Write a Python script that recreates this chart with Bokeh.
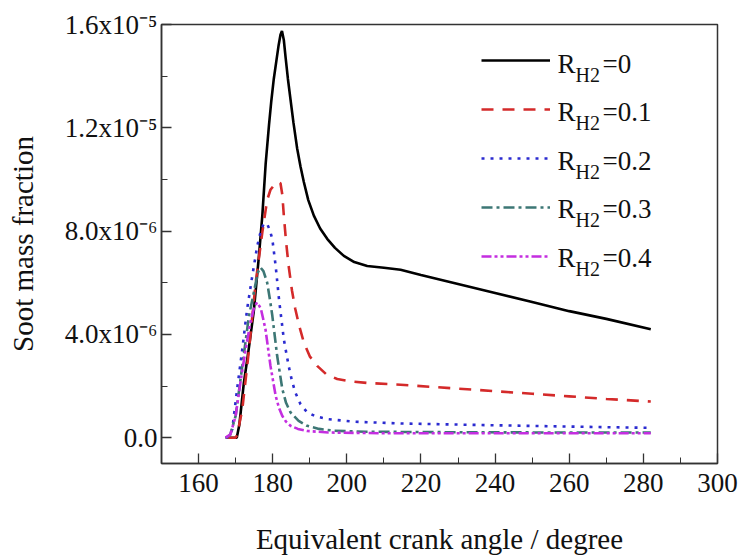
from bokeh.plotting import figure
from bokeh.models import FixedTicker, Legend, LegendItem, Label, Range1d
from bokeh.embed import file_html
from bokeh.resources import INLINE

# ---- data (soot mass fraction in units of 1e-6) ----
r_h2_labels = ["0", "0.1", "0.2", "0.3", "0.4"]

x_r0 = [167.3, 170.3, 171.0, 172.2, 173.5, 174.9, 176.2, 177.2, 178.1, 179.0, 179.6, 180.3, 181.0,
        181.6, 182.1, 182.5, 183.0, 183.5, 184.1, 184.8, 185.6, 186.6, 187.5, 188.4, 189.6, 191.1,
        192.8, 194.7, 196.8, 199.2, 202.0, 205.5, 210.0, 214.5, 220.0,
        230.0, 240.0, 250.0, 260.0, 270.0, 282.0]
y_r0 = [0.0, 0.0, 0.5, 2.1, 3.4, 4.9, 6.9, 8.6, 10.6, 12.1, 13.0, 13.9, 14.6,
        15.2, 15.6, 15.75, 15.4, 14.7, 13.9, 13.1, 12.2, 11.2, 10.5, 9.9, 9.2, 8.6,
        8.1, 7.7, 7.35, 7.04, 6.8, 6.65, 6.58, 6.5, 6.3,
        5.95, 5.6, 5.25, 4.9, 4.6, 4.2]

x_r1 = [167.5, 170.0, 170.4, 171.8, 173.6, 175.4, 177.2, 178.5, 179.4, 180.2, 180.8, 181.5, 182.1,
        182.6, 183.0, 183.6, 184.3, 185.2, 186.1, 187.2, 188.4, 190.0, 192.0, 194.5, 197.4, 201.0,
        205.5, 214.5, 230.0, 250.0, 260.0, 270.0, 282.0]
y_r1 = [0.0, 0.0, 0.1, 1.1, 3.4, 6.0, 7.95, 9.2, 9.6, 9.75, 9.85, 9.9, 9.85,
        9.4, 8.6, 7.6, 6.65, 5.7, 4.98, 4.3, 3.69, 3.15, 2.78, 2.45, 2.27, 2.18,
        2.12, 2.05, 1.9, 1.7, 1.6, 1.5, 1.4]

x_r2 = [167.3, 168.3, 169.1, 170.4, 171.8, 173.1, 174.5, 175.8, 176.7, 177.6, 178.5, 179.2, 179.9,
        180.8, 181.7, 183.0, 184.3, 185.2, 186.1, 187.5, 189.3, 191.5, 194.7, 201.9, 214.5, 240.0,
        260.0, 282.0]
y_r2 = [0.0, 0.05, 0.33, 1.88, 3.43, 4.98, 6.27, 7.4, 7.95, 8.3, 8.27, 8.05, 7.69,
        6.65, 5.36, 3.81, 2.78, 2.2, 1.75, 1.3, 0.98, 0.83, 0.72, 0.62, 0.55, 0.48,
        0.43, 0.38]

x_r3 = [167.5, 168.5, 170.0, 171.8, 173.6, 174.9, 176.0, 176.7, 177.5, 178.5, 179.2, 179.9, 181.2,
        182.6, 183.6, 184.8, 187.0, 189.3, 192.5, 196.5, 205.0, 230.0, 260.0, 282.0]
y_r3 = [0.0, 0.1, 0.84, 2.78, 4.72, 5.62, 6.4, 6.59, 6.45, 6.01, 5.4, 4.72, 3.17,
        1.88, 1.35, 0.98, 0.65, 0.46, 0.34, 0.27, 0.23, 0.21, 0.2, 0.2]

x_r4 = [167.3, 168.6, 170.0, 171.3, 172.7, 174.0, 175.0, 175.8, 176.8, 178.05, 179.4, 180.8,
        181.7, 182.6, 183.6, 184.8, 186.8, 189.3, 195.0, 210.0, 240.0, 282.0]
y_r4 = [0.0, 0.13, 0.84, 2.14, 3.43, 4.46, 5.05, 5.24, 5.0, 4.2, 2.78, 1.62,
        1.15, 0.84, 0.62, 0.46, 0.34, 0.26, 0.2, 0.17, 0.17, 0.17]

x_ticks = [160, 180, 200, 220, 240, 260, 280, 300]
x_minor = [170, 190, 210, 230, 250, 270, 290]
y_ticks = [0, 4, 8, 12, 16]
y_tick_labels = ["0.0", "4.0x10\u207b\u2076", "8.0x10\u207b\u2076", "1.2x10\u207b\u2075", "1.6x10\u207b\u2075"]
y_minor = [2, 6, 10, 14]

xs = [x_r0, x_r1, x_r2, x_r3, x_r4]
ys = [y_r0, y_r1, y_r2, y_r3, y_r4]
colors = ["#000000", "#d42a2a", "#2b2bd0", "#3d7775", "#c42ee0"]
dashes = ["solid", "12 9", "3 6", "11 4 3 4", "10 3 3 3 3 3"]

FONT = "'Liberation Serif', 'Times New Roman', serif"

p = figure(width=742, height=559, output_backend="svg", toolbar_location=None,
           x_range=Range1d(150, 300), y_range=Range1d(-1, 16),
           min_border_left=161, min_border_right=25, min_border_top=24, min_border_bottom=96)
p.grid.visible = False
p.outline_line_color = "#333333"
p.outline_line_width = 1.5
p.background_fill_color = "white"
p.border_fill_color = "white"

for ax in (p.xaxis[0], p.yaxis[0]):
    ax.axis_line_color = "#333333"
    ax.axis_line_width = 1.5
    ax.major_tick_line_color = "#333333"
    ax.minor_tick_line_color = "#333333"
    ax.major_tick_line_width = 1.3
    ax.minor_tick_line_width = 1.0
    ax.major_tick_in = 10
    ax.major_tick_out = 0
    ax.minor_tick_in = 6
    ax.minor_tick_out = 0
    ax.major_label_text_font = FONT
    ax.major_label_text_font_size = "27px"
    ax.major_label_text_color = "#111111"
    ax.axis_label_text_font = FONT
    ax.axis_label_text_font_size = "29px"
    ax.axis_label_text_font_style = "normal"
    ax.axis_label_text_color = "#111111"

p.xaxis.ticker = FixedTicker(ticks=x_ticks, minor_ticks=x_minor)
p.yaxis.ticker = FixedTicker(ticks=y_ticks, minor_ticks=y_minor)
p.yaxis.major_label_overrides = {t: lab for t, lab in zip(y_ticks, y_tick_labels)}
p.xaxis.major_label_standoff = 10
p.yaxis.major_label_standoff = 4
p.xaxis.axis_label = "Equivalent crank angle / degree"
p.yaxis.axis_label = "Soot mass fraction"
p.xaxis.axis_label_standoff = 28
p.yaxis.axis_label_standoff = 23

renderers = []
for x, y, c, d in zip(xs, ys, colors, dashes):
    r = p.line(x, y, line_color=c, line_width=2.6, line_dash=d)
    renderers.append(r)

items = [LegendItem(label=" ", renderers=[r]) for r in renderers]
legend = Legend(items=items, location=(320, 197), orientation="vertical",
                glyph_width=69, glyph_height=20, label_height=20, label_width=1,
                label_text_font_size="1px", spacing=29, padding=0, margin=0,
                border_line_alpha=0, background_fill_alpha=0)
p.add_layout(legend)

row_pitch = 48.5
for i, lab in enumerate(r_h2_labels):
    base = 400.0 - i * row_pitch
    p.add_layout(Label(x=396, y=base, x_units="screen", y_units="screen", text="R",
                       text_font=FONT, text_font_size="27px", text_baseline="alphabetic",
                       text_color="#111111"))
    p.add_layout(Label(x=414, y=base - 11.4, x_units="screen", y_units="screen", text="H2",
                       text_font=FONT, text_font_size="20px", text_baseline="alphabetic",
                       text_color="#111111"))
    p.add_layout(Label(x=441, y=base, x_units="screen", y_units="screen", text="=" + lab,
                       text_font=FONT, text_font_size="27px", text_baseline="alphabetic",
                       text_color="#111111"))

open("out.html", "w").write(file_html(p, INLINE))
